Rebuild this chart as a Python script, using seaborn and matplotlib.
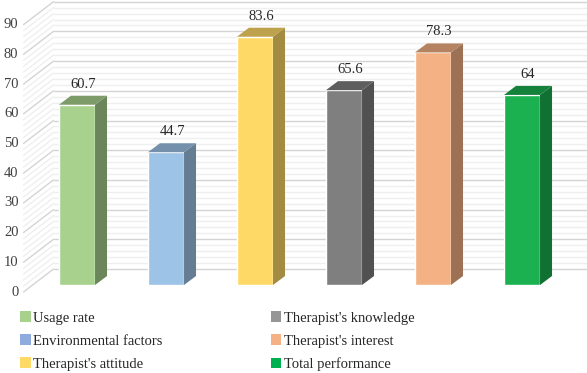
import matplotlib
matplotlib.use("Agg")
import matplotlib.pyplot as plt
import seaborn as sns
import numpy as np
from matplotlib.patches import Polygon, Patch

# data
categories = ["Usage rate", "Environmental factors", "Therapist's attitude",
              "Therapist's knowledge", "Therapist's interest", "Total performance"]
values = [60.7, 44.7, 83.6, 65.6, 78.3, 64]
value_labels = ["60.7", "44.7", "83.6", "65.6", "78.3", "64"]
yticks = [0, 10, 20, 30, 40, 50, 60, 70, 80, 90]

front_colors = ["#a9d18e", "#9dc3e6", "#ffd966", "#7f7f7f", "#f4b183", "#1bb050"]
legend_colors = ["#a9d18e", "#8faadc", "#ffd966", "#969696", "#f4b183", "#00b050"]

sns.set_theme(style="white")
plt.rcParams["font.family"] = ["Liberation Serif", "DejaVu Serif"]

W, H = 587, 373
fig = plt.figure(figsize=(W / 100, H / 100), dpi=100)
# axes = plane of the bar fronts
ax = fig.add_axes([32.5 / W, 88 / H, 534 / W, 285 / H])
ymax = 285 / 2.97
ax.set_xlim(-0.5, 5.5)
ax.set_ylim(0, ymax)

xpp = 6 / 534          # data units per pixel, x
ypp = ymax / 285       # data units per pixel, y

sns.barplot(x=categories, y=values, hue=categories, palette=front_colors,
            width=0.405, ax=ax, legend=False, saturation=1, zorder=3)

# back wall and left wall grid
bx, by = 21 * xpp, 16 * ypp      # back wall offset
fx, fy = -9 * xpp, -7 * ypp      # front edge offset
for v in range(0, 91, 2):
    major = v % 10 == 0
    col = "#d4d4d4" if major else "#efefef"
    ax.plot([-0.5 + bx, 5.5 + bx], [v + by, v + by], color=col, lw=1.0,
            clip_on=False, zorder=1 if major else 0.5)
    ax.plot([-0.5 + fx, -0.5 + bx], [v + fy, v + by], color=col, lw=1.0,
            clip_on=False, zorder=1 if major else 0.5)

for v in yticks:
    ax.text(-0.5 + fx - 5 * xpp, v + fy, str(v), ha="right", va="center",
            fontsize=10.5, color="#404040")

# 3d side and top faces of each bar
sx, sy = 12 * xpp, 9 * ypp
for p, c, lab in zip(ax.patches, front_colors, value_labels):
    x0, w, h = p.get_x(), p.get_width(), p.get_height()
    x1 = x0 + w
    rgb = np.array(matplotlib.colors.to_rgb(c))
    side = Polygon([(x1, 0), (x1 + sx, sy), (x1 + sx, h + sy), (x1, h)],
                   closed=True, facecolor=rgb * 0.64, edgecolor="none",
                   zorder=3, clip_on=False)
    top = Polygon([(x0, h), (x0 + sx, h + sy), (x1 + sx, h + sy), (x1, h)],
                  closed=True, facecolor=rgb * 0.74, edgecolor="none",
                  zorder=3, clip_on=False)
    ax.add_patch(side)
    ax.add_patch(top)
    ax.text(x0 + w / 2 + sx / 2, h + sy + 5 * ypp, lab, ha="center",
            va="bottom", fontsize=10.5, color="#262626", zorder=4)

ax.set_xticks([])
ax.set_yticks([])
ax.set_xlabel("")
ax.set_ylabel("")
sns.despine(ax=ax, left=True, bottom=True)

handles = [Patch(facecolor=c, edgecolor="none", label=l)
           for c, l in zip(legend_colors, categories)]
fig.legend(handles=handles, ncol=2, loc="upper left",
           bbox_to_anchor=(7 / W, 1 - 298 / H), frameon=False,
           fontsize=10.5, handlelength=0.75, handleheight=0.75,
           handletextpad=0.15, columnspacing=7.4, labelspacing=0.66,
           labelcolor="#262626")

fig.savefig("out.png", dpi=100)
